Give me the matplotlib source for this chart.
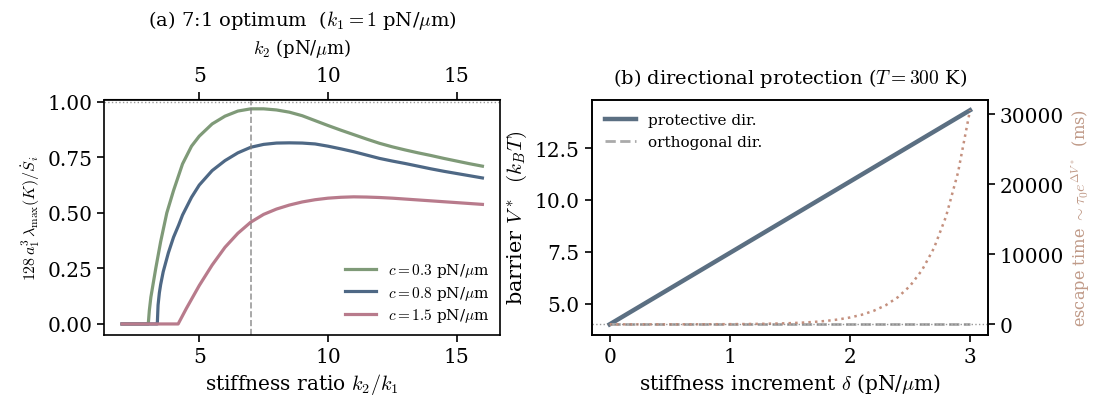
import numpy as np
import matplotlib
matplotlib.use("Agg")
import matplotlib.pyplot as plt

plt.rcParams['font.family'] = ['DejaVu Serif']
plt.rcParams['mathtext.fontset'] = 'cm'

# panel (a): stiffness ratio k2/k1 vs normalised rate
k_c03 = [2.0, 3.02, 3.06, 3.12, 3.2, 3.31, 3.5, 3.74, 4.0, 4.35, 4.7, 5.0, 5.5, 6.0, 6.5, 7.0,
         7.5, 8.0, 8.5, 9.0, 9.5, 10.0, 10.5, 11.0, 11.5, 12.0, 12.5, 13.0, 13.5, 14.0,
         14.5, 15.0, 15.5, 16.0]
s_c03 = [0, 0, 0.06, 0.12, 0.175, 0.25, 0.37, 0.50, 0.60, 0.72, 0.80, 0.845, 0.90, 0.935,
         0.958, 0.968, 0.968, 0.963, 0.953, 0.937, 0.915, 0.893, 0.872, 0.852, 0.832, 0.813,
         0.797, 0.783, 0.770, 0.758, 0.745, 0.733, 0.721, 0.71]

k_c08 = [2.0, 3.37, 3.40, 3.45, 3.5, 3.6, 3.8, 4.0, 4.2, 4.35, 4.7, 5.0, 5.5, 6.0, 6.5, 7.0,
         7.5, 8.0, 8.5, 9.0, 9.5, 10.0, 10.5, 11.0, 11.5, 12.0, 12.5, 13.0, 13.5, 14.0,
         14.5, 15.0, 15.5, 16.0]
s_c08 = [0, 0, 0.085, 0.14, 0.177, 0.235, 0.32, 0.39, 0.445, 0.49, 0.57, 0.625, 0.69, 0.735,
         0.77, 0.795, 0.808, 0.814, 0.815, 0.814, 0.81, 0.80, 0.788, 0.775, 0.760, 0.745,
         0.733, 0.722, 0.710, 0.698, 0.687, 0.677, 0.667, 0.657]

k_c15 = [2.0, 4.18, 4.5, 5.0, 5.5, 6.0, 6.5, 7.0, 7.5, 8.0, 8.5, 9.0, 9.5, 10.0, 10.5, 11.0,
         11.5, 12.0, 12.5, 13.0, 13.5, 14.0, 14.5, 15.0, 15.5, 16.0]
s_c15 = [0, 0, 0.07, 0.173, 0.265, 0.345, 0.408, 0.458, 0.493, 0.517, 0.535, 0.549, 0.559,
         0.566, 0.570, 0.572, 0.571, 0.569, 0.566, 0.562, 0.558, 0.554, 0.550, 0.546, 0.542,
         0.538]

# panel (b): barrier and escape time vs stiffness increment
delta_ends = [0.0, 3.0]
V_prot = [4.0, 14.33]
V_orth = [4.0, 4.0]
delta_t = [0.0, 0.1, 0.2, 0.3, 0.4, 0.5, 0.6, 0.7, 0.8, 0.9, 1.0, 1.1, 1.2, 1.3, 1.4, 1.5,
           1.6, 1.7, 1.8, 1.9, 2.0, 2.1, 2.2, 2.3, 2.4, 2.5, 2.6, 2.7, 2.8, 2.9, 3.0]
t_esc = [1, 1.41, 1.99, 2.81, 3.96, 5.59, 7.89, 11.1, 15.7, 22.2, 31.3, 44.1, 62.3, 87.9,
         124, 175, 247, 349, 492, 694, 980, 1380, 1950, 2750, 3890, 5480, 7740, 10900,
         15400, 21700, 30600]

col_g = '#7f9a78'
col_b = '#4e6885'
col_p = '#b87b8c'
col_prot = '#5b6f82'
col_esc = '#c4907e'

fig, (ax, bx) = plt.subplots(1, 2, figsize=(10.96, 4.02), dpi=100)
plt.subplots_adjust(left=0.0949, right=0.9015, bottom=0.164, top=0.750, wspace=0.23)

ax.plot(k_c03, s_c03, color=col_g, lw=2.3, label=r'$c=0.3$ pN/$\mu$m')
ax.plot(k_c08, s_c08, color=col_b, lw=2.3, label=r'$c=0.8$ pN/$\mu$m')
ax.plot(k_c15, s_c15, color=col_p, lw=2.3, label=r'$c=1.5$ pN/$\mu$m')
ax.axvline(7, color='gray', ls='--', lw=1.2, alpha=0.8)
ax.axhline(1.0, color='gray', ls=':', lw=1.0, alpha=0.8)
ax.set_ylim(-0.05, 1.01)
ax.set_yticks([0, 0.25, 0.5, 0.75, 1.0])
ax.set_xticks([5, 10, 15])
ax.set_xlabel(r'stiffness ratio $k_2/k_1$', fontsize=14.5)
ax.set_ylabel(r'$128\,a_1^3\,\lambda_{\max}(K)/\dot{S}_i$', fontsize=11.5)
ax.tick_params(labelsize=14.5, length=5, width=1.2)
ax.legend(loc='lower right', frameon=False, fontsize=11, labelspacing=0.3,
          borderaxespad=0.3)
top = ax.secondary_xaxis('top')
top.set_xticks([5, 10, 15])
top.tick_params(labelsize=14.5, length=5, width=1.2, pad=5.5)
top.set_xlabel(r'$k_2$ (pN/$\mu$m)', fontsize=13, labelpad=9)
ax.set_title(r'(a) 7:1 optimum  ($k_1=1$ pN/$\mu$m)', fontsize=14, pad=8)

bx.plot(delta_ends, V_prot, color=col_prot, lw=3.2, label='protective dir.')
bx.plot(delta_ends, V_orth, color='#aaaaaa', ls='--', lw=2, label='orthogonal dir.')
bx.set_xticks([0, 1, 2, 3])
bx.set_yticks([5.0, 7.5, 10.0, 12.5])
bx.set_xlabel(r'stiffness increment $\delta$ (pN/$\mu$m)', fontsize=14.5)
bx.set_ylabel(r'barrier $V^*$  $(k_BT)$', fontsize=15)
bx.tick_params(labelsize=14.5, length=5, width=1.2)
bx.legend(loc='upper left', frameon=False, fontsize=11)
bx.set_title(r'(b) directional protection ($T=300$ K)', fontsize=14, pad=12)

bx2 = bx.twinx()
bx2.plot(delta_t, t_esc, color=col_esc, ls=':', lw=1.8)
bx2.axhline(0, color='gray', ls=':', lw=1.0, alpha=0.8)
bx2.set_yticks([0, 10000, 20000, 30000])
bx2.tick_params(labelsize=14.5, length=5, width=1.2)
bx2.set_ylabel(r'escape time $\sim\tau_0 e^{\Delta V^*}$  (ms)', fontsize=11.7, color='#c09a88')

for a in (ax, bx, bx2):
    for s in a.spines.values():
        s.set_linewidth(1.2)

fig.savefig('out.png', dpi=100)
